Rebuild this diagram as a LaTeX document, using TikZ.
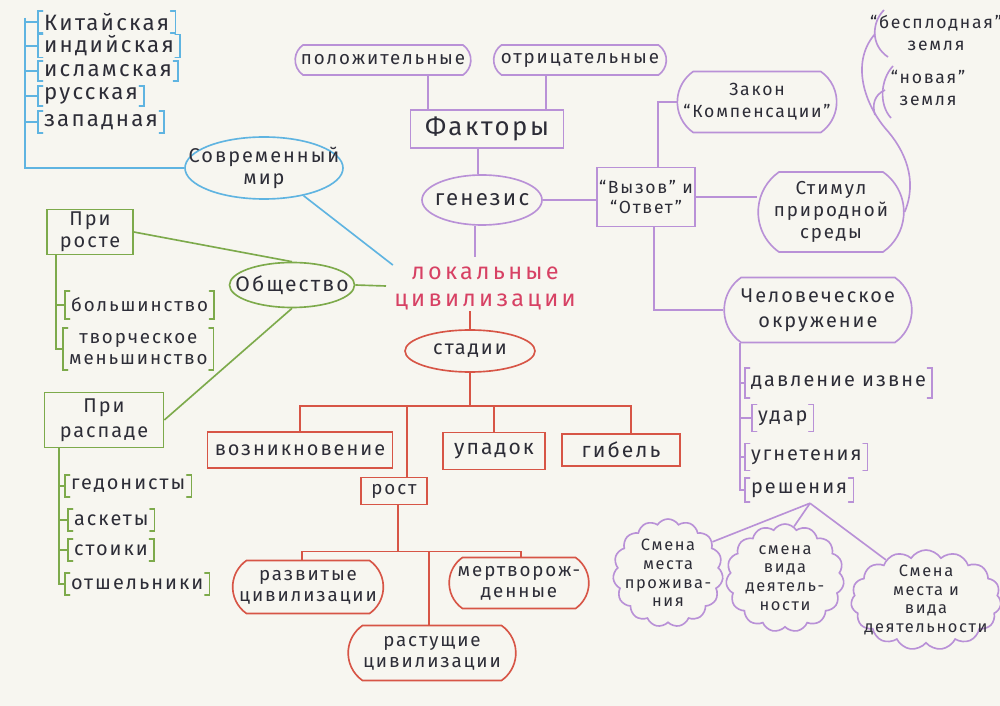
\documentclass[tikz,border=0pt]{standalone}
\usepackage{fontspec}
\setmainfont{Fira Sans}[LetterSpace=10]
\newfontfamily\titlefont{Fira Sans}[LetterSpace=14]
\usetikzlibrary{shapes.geometric,shapes.misc,shapes.symbols,calc}
\definecolor{paper}{RGB}{247,246,240}
\definecolor{ink}{RGB}{45,45,55}
\definecolor{cblue}{RGB}{95,180,225}
\definecolor{cpur}{RGB}{185,145,215}
\definecolor{cgrn}{RGB}{125,170,75}
\definecolor{cred}{RGB}{215,85,70}
\definecolor{cpink}{RGB}{215,65,100}
\newcommand\mybrk[2]{\draw[#2, line width=1.3pt, line cap=round]
  ([xshift=4pt]#1.north west) -- (#1.north west) -- (#1.south west) -- ([xshift=4pt]#1.south west)
  ([xshift=-4pt]#1.north east) -- (#1.north east) -- (#1.south east) -- ([xshift=-4pt]#1.south east);}
\begin{document}
\begin{tikzpicture}[x=0.3mm,y=-0.3mm,
  every node/.style={text=ink, align=center, inner sep=1pt, font=\fontsize{16}{18}\selectfont},
  lw/.style={line width=1.4pt},
  wh/.style 2 args={minimum width=#1*0.3mm, minimum height=#2*0.3mm},
  hh/.style={minimum height=#1*0.3mm},
  item/.style={anchor=west, inner xsep=5pt, inner ysep=1pt},
  box/.style={draw, rectangle, lw},
  rbox/.style={draw, rounded rectangle, rounded rectangle arc length=110, lw},
  ell/.style={draw, ellipse, lw},
  cld/.style={draw, cloud, cloud puffs=15, cloud puff arc=115, cloud ignores aspect, lw},
  ctr/.style n args={3}{label={[align=center, text=ink, font=\fontsize{#1}{#2}\selectfont]center:{#3}}},
  bl/.style={draw=cblue, lw},
  pl/.style={draw=cpur, lw},
  gl/.style={draw=cgrn, lw},
  rl/.style={draw=cred, lw},
  fs/.style 2 args={font=\fontsize{#1}{#2}\selectfont}
]
\fill[paper] (0,0) rectangle (1000,706);
\useasboundingbox (0,0) rectangle (1000,706);

% ---------- blue ----------
\node[item, fs={19}{21}, hh=22] (kit) at (38,22) {Китайская};
\node[item, fs={19}{21}, hh=20] (ind) at (38,46) {индийская};
\node[item, fs={19}{21}, hh=20] (isl) at (38,71) {исламская};
\node[item, fs={19}{21}, hh=20] (rus) at (38,96) {русская};
\node[item, fs={19}{21}, hh=22] (zap) at (38,122) {западная};
\node[ell, draw=cblue, wh={158}{62}, ctr={17}{19}{Современный\\мир}] (mir) at (264,168) {};

% ---------- title ----------
\node[text=cpink, font=\titlefont\fontsize{20}{23}\selectfont] (loc) at (485,288) {локальные\\цивилизации};

% ---------- purple ----------
\node[rbox, draw=cpur, wh={178}{30}] (pol) at (383,60) {положительные};
\node[rbox, draw=cpur, wh={175}{30}] (otr) at (580,60) {отрицательные};
\node[box, draw=cpur, wh={153}{38}, fs={22}{24}] (fak) at (487,129) {Факторы};
\node[ell, draw=cpur, wh={120}{50}, ctr={19}{21}{генезис}] (gen) at (482,200) {};
\node[box, draw=cpur, wh={98}{59}, fs={15}{17}] (vyz) at (646,197) {“Вызов” и\\“Ответ”};
\node[rbox, draw=cpur, wh={150}{61}, fs={15}{19}] (zak) at (757,102) {Закон\\“Компенсации”};
\node[rbox, draw=cpur, wh={148}{80}, fs={16}{19}] (stim) at (831,212) {Стимул\\природной\\среды};
\node[rbox, draw=cpur, wh={190}{65}, fs={17}{21}] (chel) at (818,310) {Человеческое\\окружение};
\node[item, fs={17}{19}, hh=30] (dav) at (745,383) {давление извне};
\node[item, fs={17}{19}, hh=27] (udar) at (752,418) {удар};
\node[item, fs={17}{19}, hh=27] (ugn) at (745,457) {угнетения};
\node[item, fs={17}{19}, hh=24] (resh) at (745,490) {решения};
\node[cld, draw=cpur, wh={110}{108}, ctr={14}{16}{Смена\\места\\прожива-\\ния}] (cl1) at (668,573) {};
\node[cld, draw=cpur, wh={118}{108}, ctr={14}{16}{смена\\вида\\деятель-\\ности}] (cl2) at (785,578) {};
\node[cld, draw=cpur, wh={150}{100}, ctr={14}{16}{Смена\\места и\\вида\\деятельности}] (cl3) at (926,600) {};
\node[fs={15}{19}] (bes) at (936,33) {“бесплодная”\\земля};
\node[fs={15}{19}] (nov) at (928,88) {“новая”\\земля};

% ---------- red ----------
\node[ell, draw=cred, wh={130}{42}, ctr={17}{19}{стадии}] (st) at (470,351) {};
\node[box, draw=cred, wh={185}{36}, fs={17}{19}] (voz) at (300,450) {возникновение};
\node[box, draw=cred, wh={102}{37}, fs={18}{20}] (upa) at (494,451) {упадок};
\node[box, draw=cred, wh={118}{32}, fs={18}{20}] (gib) at (621,450) {гибель};
\node[box, draw=cred, wh={66}{27}, fs={16}{18}] (rost) at (394,491) {рост};
\node[rbox, draw=cred, wh={153}{53}] (raz) at (308,587) {развитые\\цивилизации};
\node[rbox, draw=cred, wh={142}{51}] (mer) at (519,583) {мертворож-\\денные};
\node[rbox, draw=cred, wh={170}{55}] (ras) at (432,653) {растущие\\цивилизации};

% ---------- green ----------
\node[box, draw=cgrn, wh={86}{45}, fs={17}{19}] (pr) at (90,232) {При\\росте};
\node[box, draw=cgrn, wh={119}{55}, fs={17}{21}] (pd) at (104,420) {При\\распаде};
\node[ell, draw=cgrn, wh={125}{45}, ctr={18}{20}{Общество}] (ob) at (292,285) {};
\node[item, hh=28] (bol) at (65,305) {большинство};
\node[item, hh=42] (tvo) at (63,349) {творческое\\меньшинство};
\node[item, fs={17}{19}, hh=22] (ged) at (65,486) {гедонисты};
\node[item, fs={17}{19}, hh=22] (ask) at (68,520) {аскеты};
\node[item, fs={17}{19}, hh=22] (sto) at (68,550) {стоики};
\node[item, fs={17}{19}, hh=22] (ots) at (65,584) {отшельники};

% ---------- blue connectors ----------
\coordinate (bsp) at (25,18);
\draw[bl] (bsp) |- (mir.west);
\foreach \n in {kit,ind,isl,rus,zap} {\draw[bl] (\n.west -| bsp) -- (\n.west); \mybrk{\n}{cblue}}
\draw[bl] (mir.-35) -- (loc.north west);

% ---------- purple connectors ----------
\draw[pl] ($(pol.south)+(45,0)$) -- ($(fak.north)+(-59,0)$);
\draw[pl] ($(otr.south)+(-34,0)$) -- ($(fak.north)+(59,0)$);
\draw[pl] ($(fak.south)+(-9,0)$) -- ($(gen.north)+(-4,0)$);
\draw[pl] ($(gen.south)+(-7,0)$) -- ($(loc.north)+(-10,-8)$);
\draw[pl] (gen.east) -- (gen.east -| vyz.west);
\draw[pl] ($(vyz.north)+(12,0)$) |- (zak.west);
\draw[pl] (vyz.east) -- (vyz.east -| stim.west);
\draw[pl] ($(vyz.south)+(8,0)$) |- (chel.west);
\coordinate (hs) at ($(chel.south)+(-78,0)$);
\draw[pl] (hs) |- (resh.west);
\foreach \n in {dav,udar,ugn} {\draw[pl] (\n.west -| hs) -- (\n.west);}
\foreach \n in {dav,udar,ugn,resh} {\mybrk{\n}{cpur}}
\coordinate (rs) at ($(resh.south west)+(65,1)$);
\draw[pl] (rs) -- (cl1.35);
\draw[pl] (rs) -- (cl2.80);
\draw[pl] (rs) -- (cl3.135);
\draw[pl] (stim.east) .. controls (918,180) and (905,150) .. (885,128) .. controls (862,100) and (852,60) .. (875,34);
\draw[pl] (884,10) .. controls (872,22) and (870,45) .. (888,57);
\draw[pl] (893,66) .. controls (880,80) and (879,105) .. (891,118);
\draw[pl] (885,90) .. controls (874,95) and (872,105) .. (875,115);

% ---------- red connectors ----------
\draw[rl] (st.north) -- (st.north |- loc.south);
\draw[rl] (st.south) -- ++(0,33) coordinate (sb);
\draw[rl] (voz.north) |- (sb) -| ($(gib.north)+(10,0)$);
\draw[rl] (upa.north) -- (upa.north |- sb);
\coordinate (rn) at ($(rost.north)+(13,0)$);
\draw[rl] (rn) -- (rn |- sb);
\coordinate (rb) at ($(rost.south)+(4,0)$);
\draw[rl] (rb) -- ++(0,46) coordinate (rb2);
\draw[rl] ($(raz.north)+(-6,0)$) |- (rb2) -| ($(mer.north)+(2,0)$);
\coordinate (rc) at ($(ras.north)+(-3,0)$);
\draw[rl] (rc) -- (rc |- rb2);

% ---------- green connectors ----------
\draw[gl] (pr.east) -- (ob.north);
\coordinate (obe) at (386,286);
\draw[gl] (ob.east) -- (obe);
\draw[gl] (ob.south) -- (pd.east);
\coordinate (gs1) at ($(pr.south west)+(10,0)$);
\draw[gl] (gs1) |- (tvo.west);
\draw[gl] (bol.west -| gs1) -- (bol.west);
\coordinate (gs2) at ($(pd.south west)+(15,0)$);
\draw[gl] (gs2) |- (ots.west);
\foreach \n in {ged,ask,sto} {\draw[gl] (\n.west -| gs2) -- (\n.west);}
\foreach \n in {bol,tvo,ged,ask,sto,ots} {\mybrk{\n}{cgrn}}
\end{tikzpicture}
\end{document}
